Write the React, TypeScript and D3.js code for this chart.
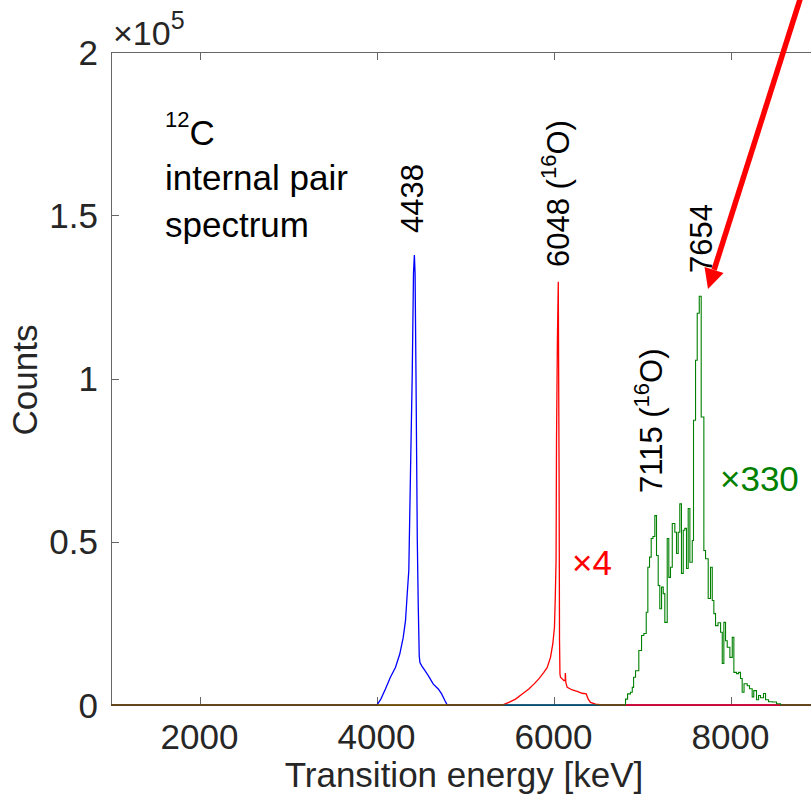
import React from "react";
import * as d3 from "d3";

// spectrum values (energy in keV, counts)
const blueE = [1000, 4004, 4049, 4101, 4157, 4214, 4263, 4302, 4328, 4347, 4365, 4384, 4404, 4418, 4428, 4436, 4446, 4461, 4472, 4483, 4491, 4511, 4548, 4585, 4642, 4698, 4736, 4774, 4800, 10000];
const blueCounts = [0, 0, 1800, 4900, 8500, 11500, 15600, 20700, 25900, 34000, 41200, 71000, 101600, 132300, 137800, 132000, 101600, 50400, 30000, 15000, 13000, 12000, 10500, 9000, 6400, 4900, 3400, 1300, 0, 0];

const redE = [1000, 5421, 5495, 5571, 5647, 5721, 5778, 5834, 5891, 5929, 5966, 5992, 6011, 6021, 6029, 6034, 6044, 6054, 6063, 6068, 6073, 6079, 6098, 6117, 6132, 6134, 6139, 6155, 6212, 6268, 6324, 6370, 6392, 6418, 6475, 6551, 10000];
const redCounts = [0, 0, 800, 1800, 3400, 4900, 6400, 8000, 10000, 11500, 14600, 18700, 23800, 34000, 44300, 81000, 111700, 129600, 71000, 20000, 9500, 8500, 8000, 7500, 7500, 9800, 6900, 5400, 4600, 4200, 3600, 3400, 1800, 800, 300, 0, 0];

// x330 histogram (bin start energy, counts)
const greenE = [1000, 6814, 6837, 6870, 6890, 6905, 6927, 6964, 6995, 7021, 7048, 7066, 7085, 7104, 7124, 7145, 7164, 7183, 7201, 7221, 7240, 7258, 7285, 7303, 7322, 7342, 7371, 7390, 7409, 7427, 7446, 7466, 7484, 7503, 7522, 7541, 7568, 7582, 7605, 7624, 7647, 7669, 7699, 7718, 7748, 7774, 7794, 7812, 7831, 7859, 7888, 7907, 7925, 7944, 7963, 7993, 8020, 8038, 8068, 8091, 8113, 8132, 8153, 8189, 8215, 8245, 8263, 8294, 8317, 8339, 8373, 8396, 8430, 8475, 8520, 8565, 10000];
const greenCounts = [0, 1800, 3400, 3900, 5400, 8500, 10500, 16700, 21300, 21900, 28400, 42200, 45300, 51000, 51600, 58000, 45800, 36600, 29500, 36100, 34100, 25300, 51000, 39100, 42200, 55600, 52900, 46400, 52900, 61600, 40300, 53500, 54100, 41800, 60200, 43700, 50400, 87200, 105600, 120000, 125200, 88200, 47300, 44800, 32600, 42200, 32000, 28000, 24300, 25200, 22300, 12700, 25300, 19700, 17700, 14600, 20700, 10000, 9600, 10000, 8100, 3900, 6500, 5900, 5000, 2500, 4400, 1600, 2900, 2200, 3500, 1600, 1000, 900, 400, 0, 0];

const xTicks = [2000, 4000, 6000, 8000];
const yTicks = [0, 50000, 100000, 150000, 200000];
const yTickLabels = ["0", "0.5", "1", "1.5", "2"];

const width = 811;
const height = 798;
const marginLeft = 111;
const marginTop = 52;
const plotBottom = 705;
const font = "'Liberation Sans', Arial, Helvetica, sans-serif";
const axisColor = "#666666";
const textColor = "#262626";

export default function App() {
  const x = d3
    .scaleLinear()
    .domain([1000, 10000])
    .range([marginLeft, marginLeft + 9 * 88.5]);
  const y = d3.scaleLinear().domain([0, 200000]).range([plotBottom, marginTop]);

  const smooth = (es: number[], cs: number[]) =>
    d3
      .line<number>()
      .x((d) => x(d))
      .y((d, i) => y(cs[i]))(es) || "";

  const steps = (es: number[], cs: number[]) =>
    d3
      .line<number>()
      .x((d) => x(d))
      .y((d, i) => y(cs[i]))
      .curve(d3.curveStepAfter)(es) || "";

  // red arrow
  const tip = [708, 289];
  const start = [803, -10];
  const len = Math.hypot(start[0] - tip[0], start[1] - tip[1]);
  const ux = (start[0] - tip[0]) / len;
  const uy = (start[1] - tip[1]) / len;
  const headLen = 20;
  const headW = 10;
  const bx = tip[0] + ux * headLen;
  const by = tip[1] + uy * headLen;
  const head = [
    [tip[0], tip[1]],
    [bx - uy * headW, by + ux * headW],
    [bx + uy * headW, by - ux * headW],
  ];

  return (
    <svg
      width={width}
      height={height}
      style={{ position: "absolute", left: 0, top: 0, background: "#fff" }}
      fontFamily={font}
    >
      <rect width={width} height={height} fill="#fff" />

      {/* axes box */}
      <line x1={marginLeft + 0.5} x2={marginLeft + 0.5} y1={marginTop} y2={plotBottom} stroke={axisColor} />
      <line x1={marginLeft} x2={width} y1={marginTop + 0.5} y2={marginTop + 0.5} stroke={axisColor} />
      <line x1={marginLeft} x2={width} y1={plotBottom + 0.5} y2={plotBottom + 0.5} stroke={axisColor} />

      {xTicks.map((t) => (
        <g key={t}>
          <line x1={Math.round(x(t)) + 0.5} x2={Math.round(x(t)) + 0.5} y1={marginTop} y2={marginTop + 8} stroke={axisColor} />
          <line x1={Math.round(x(t)) + 0.5} x2={Math.round(x(t)) + 0.5} y1={plotBottom} y2={plotBottom - 8} stroke={axisColor} />
          <text x={x(t)} y={749} fontSize={35} textAnchor="middle" fill={textColor}>
            {t}
          </text>
        </g>
      ))}

      {yTicks.map((t, i) => (
        <g key={t}>
          <line x1={marginLeft} x2={marginLeft + 8} y1={Math.round(y(t)) + 0.5} y2={Math.round(y(t)) + 0.5} stroke={axisColor} />
          <text x={98} y={y(t)} dy="0.36em" fontSize={35} textAnchor="end" fill={textColor}>
            {yTickLabels[i]}
          </text>
        </g>
      ))}

      <text x={113} y={45} fontSize={34} fill={textColor}>
        ×10
        <tspan fontSize={25} dy={-16}>5</tspan>
      </text>

      <text transform="translate(37,380) rotate(-90)" fontSize={35} textAnchor="middle" fill={textColor}>
        Counts
      </text>
      <text x={464} y={787} fontSize={35} textAnchor="middle" fill={textColor}>
        Transition energy [keV]
      </text>

      {/* spectra */}
      <path d={smooth(blueE, blueCounts)} fill="none" stroke="#0000ff" strokeWidth={1.3} />
      <path d={smooth(redE, redCounts)} fill="none" stroke="#ff0000" strokeWidth={1.3} />
      <path d={steps(greenE, greenCounts)} fill="none" stroke="#008000" strokeWidth={1.1} />

      {/* annotations */}
      <text x={165} y={145} fontSize={35} fill="#000">
        <tspan fontSize={22} dy={-18}>12</tspan>
        <tspan dy={18}>C</tspan>
      </text>
      <text x={165} y={190} fontSize={35} fill="#000">
        internal pair
      </text>
      <text x={165} y={237} fontSize={35} fill="#000">
        spectrum
      </text>

      <text transform="translate(423,233) rotate(-90)" fontSize={31} fill="#000">
        4438
      </text>
      <text transform="translate(569,267) rotate(-90)" fontSize={31} fill="#000">
        6048 (<tspan fontSize={22} dy={-13}>16</tspan>
        <tspan dy={13}>O)</tspan>
      </text>
      <text transform="translate(712,273) rotate(-90)" fontSize={31} fill="#000">
        7654
      </text>
      <text transform="translate(662,493) rotate(-90)" fontSize={31} fill="#000">
        7115 (<tspan fontSize={22} dy={-13}>16</tspan>
        <tspan dy={13}>O)</tspan>
      </text>

      <text x={572} y={575} fontSize={35} fill="#ff0000">
        ×4
      </text>
      <text x={720} y={491} fontSize={35} fill="#008000">
        ×330
      </text>

      {/* arrow */}
      <line x1={start[0]} y1={start[1]} x2={bx} y2={by} stroke="#ff0000" strokeWidth={5.5} />
      <polygon points={head.map((p) => p.join(",")).join(" ")} fill="#ff0000" />
    </svg>
  );
}
